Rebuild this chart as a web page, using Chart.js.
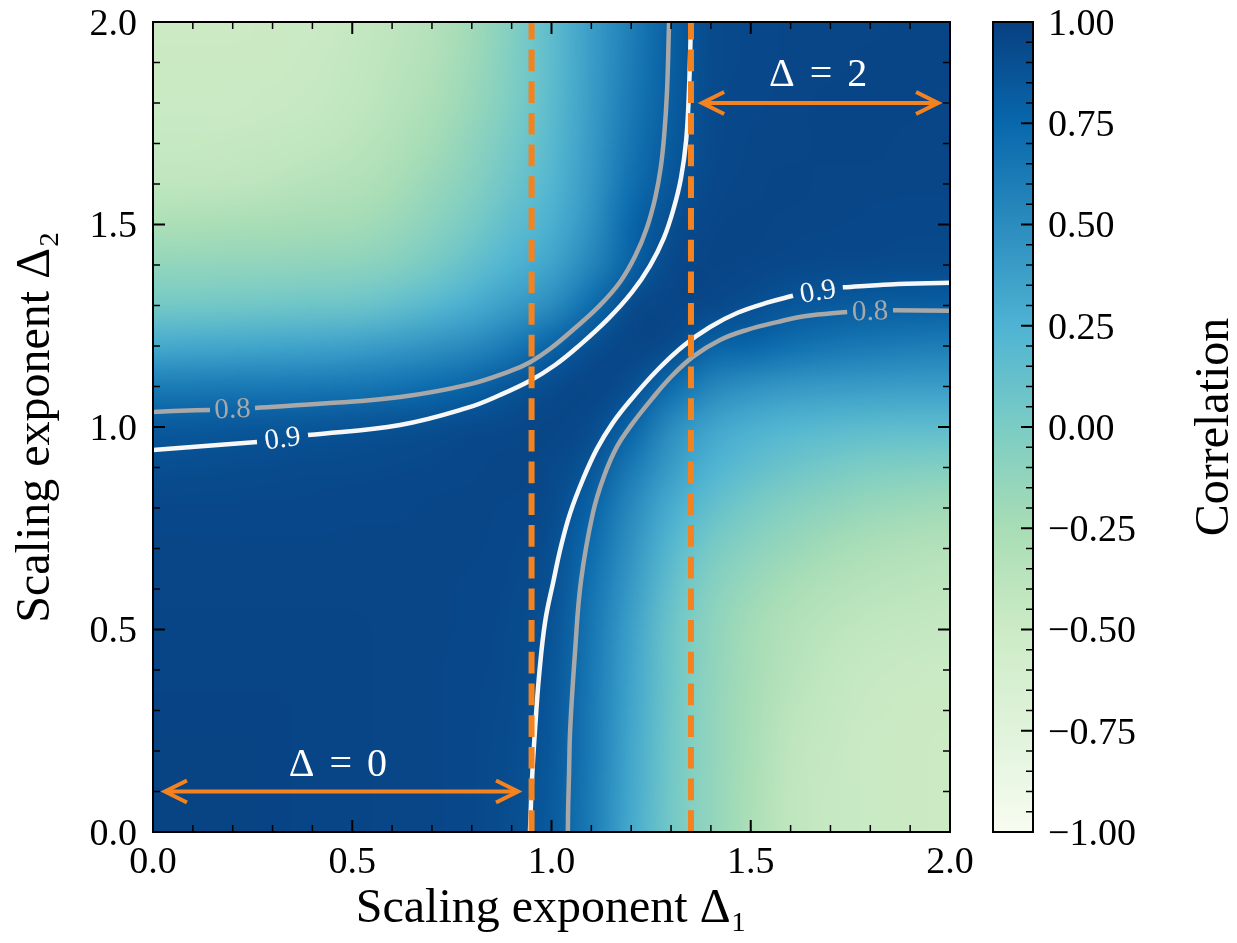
<!DOCTYPE html>
<html>
<head>
<meta charset="utf-8">
<script src="https://cdn.jsdelivr.net/npm/chart.js@4.4.1/dist/chart.umd.min.js"></script>
<style>
  html, body { margin: 0; padding: 0; background: #fff; }
  #wrap { position: relative; width: 1237px; height: 943px; }
  #main { position: absolute; left: 0; top: 0; }
  #cbar { position: absolute; left: 980px; top: 0; }
</style>
</head>
<body>
<div id="wrap">
  <canvas id="main" width="980" height="943"></canvas>
  <canvas id="cbar" width="257" height="943"></canvas>
</div>
<script>
/* ---------- data ---------- */

// grid columns (Delta_1) and rows (Delta_2, top row first)
const delta1 = [0.0, 0.1, 0.2, 0.3, 0.4, 0.5, 0.6, 0.7, 0.8, 0.9, 1.0,
                1.1, 1.2, 1.3, 1.4, 1.5, 1.6, 1.7, 1.8, 1.9, 2.0];
const delta2 = [2.0, 1.9, 1.8, 1.7, 1.6, 1.5, 1.4, 1.3, 1.2, 1.1, 1.0,
                0.9, 0.8, 0.7, 0.6, 0.5, 0.4, 0.3, 0.2, 0.1, 0.0];

// correlation, one row per Delta_2 value
const correlation = [
  [-0.5, -0.5, -0.5, -0.49, -0.48, -0.45, -0.4, -0.33, -0.21, -0.04, 0.16, 0.39, 0.6, 0.81, 0.93, 0.95, 0.96, 0.96, 0.965, 0.97, 0.97],
  [-0.49, -0.49, -0.49, -0.49, -0.47, -0.44, -0.38, -0.31, -0.19, -0.03, 0.16, 0.39, 0.61, 0.815, 0.93, 0.95, 0.96, 0.965, 0.97, 0.97, 0.97],
  [-0.48, -0.48, -0.48, -0.47, -0.46, -0.42, -0.36, -0.28, -0.16, -0.01, 0.17, 0.4, 0.63, 0.82, 0.935, 0.955, 0.96, 0.97, 0.97, 0.97, 0.965],
  [-0.46, -0.46, -0.45, -0.44, -0.42, -0.38, -0.32, -0.23, -0.11, 0.03, 0.19, 0.41, 0.66, 0.84, 0.94, 0.96, 0.965, 0.97, 0.97, 0.965, 0.96],
  [-0.41, -0.41, -0.4, -0.38, -0.34, -0.32, -0.26, -0.16, -0.06, 0.08, 0.22, 0.43, 0.7, 0.86, 0.95, 0.965, 0.97, 0.965, 0.96, 0.96, 0.96],
  [-0.28, -0.27, -0.26, -0.25, -0.24, -0.23, -0.17, -0.09, 0.02, 0.15, 0.27, 0.47, 0.77, 0.91, 0.96, 0.97, 0.965, 0.96, 0.955, 0.95, 0.95],
  [-0.13, -0.125, -0.12, -0.12, -0.11, -0.1, -0.06, 0.02, 0.13, 0.25, 0.35, 0.55, 0.79, 0.95, 0.97, 0.96, 0.95, 0.94, 0.935, 0.93, 0.93],
  [0.04, 0.045, 0.05, 0.06, 0.07, 0.08, 0.13, 0.2, 0.29, 0.4, 0.5, 0.72, 0.94, 0.97, 0.95, 0.91, 0.86, 0.84, 0.82, 0.815, 0.81],
  [0.31, 0.32, 0.33, 0.34, 0.35, 0.37, 0.41, 0.46, 0.52, 0.63, 0.78, 0.91, 0.97, 0.94, 0.79, 0.77, 0.7, 0.66, 0.63, 0.61, 0.6],
  [0.62, 0.62, 0.63, 0.63, 0.64, 0.65, 0.68, 0.72, 0.78, 0.87, 0.93, 0.97, 0.91, 0.72, 0.55, 0.47, 0.43, 0.41, 0.4, 0.39, 0.39],
  [0.838, 0.845, 0.855, 0.86, 0.87, 0.885, 0.9, 0.915, 0.935, 0.945, 0.97, 0.93, 0.78, 0.5, 0.35, 0.27, 0.22, 0.19, 0.17, 0.16, 0.16],
  [0.915, 0.92, 0.925, 0.93, 0.935, 0.94, 0.945, 0.95, 0.955, 0.97, 0.945, 0.87, 0.63, 0.4, 0.25, 0.15, 0.08, 0.03, -0.01, -0.03, -0.04],
  [0.95, 0.95, 0.95, 0.95, 0.95, 0.955, 0.955, 0.96, 0.965, 0.955, 0.935, 0.78, 0.52, 0.29, 0.13, 0.02, -0.06, -0.11, -0.16, -0.19, -0.21],
  [0.96, 0.96, 0.96, 0.96, 0.96, 0.96, 0.96, 0.965, 0.96, 0.95, 0.915, 0.72, 0.46, 0.2, 0.02, -0.09, -0.16, -0.23, -0.28, -0.31, -0.33],
  [0.965, 0.965, 0.965, 0.965, 0.965, 0.965, 0.965, 0.96, 0.955, 0.945, 0.9, 0.68, 0.41, 0.13, -0.06, -0.17, -0.26, -0.32, -0.36, -0.38, -0.4],
  [0.97, 0.97, 0.97, 0.97, 0.97, 0.97, 0.965, 0.96, 0.955, 0.94, 0.885, 0.65, 0.37, 0.08, -0.1, -0.23, -0.32, -0.38, -0.42, -0.44, -0.45],
  [0.97, 0.97, 0.97, 0.97, 0.97, 0.97, 0.965, 0.96, 0.95, 0.935, 0.87, 0.64, 0.35, 0.07, -0.11, -0.24, -0.34, -0.42, -0.46, -0.47, -0.48],
  [0.975, 0.975, 0.975, 0.975, 0.97, 0.97, 0.965, 0.96, 0.95, 0.93, 0.86, 0.63, 0.34, 0.06, -0.12, -0.25, -0.38, -0.44, -0.47, -0.49, -0.49],
  [0.98, 0.98, 0.98, 0.975, 0.97, 0.97, 0.965, 0.96, 0.95, 0.925, 0.855, 0.63, 0.33, 0.05, -0.12, -0.26, -0.4, -0.45, -0.48, -0.49, -0.5],
  [0.98, 0.98, 0.98, 0.975, 0.97, 0.97, 0.965, 0.96, 0.95, 0.92, 0.845, 0.62, 0.32, 0.045, -0.125, -0.27, -0.41, -0.46, -0.48, -0.49, -0.5],
  [0.98, 0.98, 0.98, 0.975, 0.97, 0.97, 0.965, 0.96, 0.95, 0.915, 0.838, 0.62, 0.31, 0.04, -0.13, -0.28, -0.41, -0.46, -0.48, -0.49, -0.5],
];

// contour lines [Delta_1, Delta_2]; null = gap left for the inline label
const contour90Upper = [[0, 0.943], [0.13, 0.953], [0.261, 0.963], null,
  [0.389, 0.98], [0.62, 1.005], [0.788, 1.047], [0.871, 1.079], [0.946, 1.114],
  [1.009, 1.153], [1.066, 1.198], [1.142, 1.267], [1.202, 1.333], [1.247, 1.398],
  [1.282, 1.467], [1.307, 1.541], [1.325, 1.615], [1.338, 1.709], [1.345, 1.832], [1.35, 2.0]];
const contour90Lower = [[0.946, 0], [0.951, 0.128], [0.959, 0.257], [0.969, 0.388],
  [0.984, 0.519], [1.005, 0.62], [1.024, 0.706], [1.047, 0.788], [1.079, 0.871],
  [1.114, 0.946], [1.153, 1.009], [1.198, 1.066], [1.267, 1.142], [1.333, 1.202],
  [1.398, 1.247], [1.467, 1.282], [1.541, 1.307], [1.606, 1.324], null,
  [1.731, 1.345], [1.85, 1.352], [2.0, 1.356]];
const contour80Upper = [[0, 1.037], [0.07, 1.04], [0.143, 1.042], null,
  [0.256, 1.047], [0.444, 1.059], [0.62, 1.074], [0.788, 1.104], [0.896, 1.138],
  [0.946, 1.16], [0.999, 1.195], [1.054, 1.24], [1.12, 1.299], [1.172, 1.358],
  [1.21, 1.422], [1.239, 1.491], [1.26, 1.565], [1.274, 1.64], [1.283, 1.723],
  [1.29, 1.832], [1.295, 2.0]];
const contour80Lower = [[1.041, 0], [1.042, 0.07], [1.044, 0.143], [1.047, 0.256],
  [1.059, 0.444], [1.074, 0.62], [1.104, 0.788], [1.132, 0.879], [1.164, 0.951],
  [1.202, 1.007], [1.25, 1.067], [1.302, 1.126], [1.357, 1.175], [1.423, 1.215],
  [1.491, 1.24], [1.566, 1.259], [1.639, 1.274], [1.742, 1.284], null,
  [1.857, 1.288], [2.0, 1.287]];

// dashed guide lines and the two annotated ranges
const guideX = [0.95, 1.35];
const arrowY = [0.1, 1.8];
const arrowStart = [0.03, 1.378];
const arrowEnd = [0.916, 1.97];
const arrowText = ['Δ = 0', 'Δ = 2'];
const arrowTextX = [0.464, 1.669];
const arrowTextY = [0.165, 1.867];

// tick labels
const axisTicks = [0.0, 0.5, 1.0, 1.5, 2.0];
const cbarTicks = [-1.0, -0.75, -0.5, -0.25, 0.0, 0.25, 0.5, 0.75, 1.0];

/* ---------- style ---------- */

const FONT = "'Liberation Serif', 'Times New Roman', serif";
const ORANGE = '#f4831f';
const WHITE = '#f7f7f7';
const GRAY = '#a8a8a8';
const GNBU = ['#f7fcf0', '#e0f3db', '#ccebc5', '#a8ddb5', '#7bccc4',
              '#4eb3d3', '#2b8cbe', '#0868ac', '#084081'];

const contours = [
  { label: '0.9', color: WHITE, points: contour90Upper },
  { label: '0.9', color: WHITE, points: contour90Lower },
  { label: '0.8', color: GRAY, points: contour80Upper },
  { label: '0.8', color: GRAY, points: contour80Lower },
];

const hexToRgb = h => {
  const n = parseInt(h.slice(1), 16);
  return [(n >> 16) & 255, (n >> 8) & 255, n & 255];
};
const GNBU_RGB = GNBU.map(hexToRgb);

function cmap(v) {
  const lo = cbarTicks[0], hi = cbarTicks[cbarTicks.length - 1];
  const t = Math.min(Math.max((v - lo) / (hi - lo), 0), 1) * (GNBU_RGB.length - 1);
  const k = Math.min(Math.floor(t), GNBU_RGB.length - 2);
  const f = t - k;
  const a = GNBU_RGB[k], b = GNBU_RGB[k + 1];
  return a.map((c, i) => Math.round(c + (b[i] - c) * f));
}

function splitPieces(points) {
  const pieces = [[]];
  points.forEach(p => {
    if (p === null) pieces.push([]);
    else pieces[pieces.length - 1].push({ x: p[0], y: p[1] });
  });
  return pieces;
}

/* ---------- plugins ---------- */

const heatmapPlugin = {
  id: 'heatmap',
  beforeDatasetsDraw(chart) {
    const { ctx, chartArea: a, scales: { x, y } } = chart;
    const nx = delta1.length, ny = delta2.length;
    const off = document.createElement('canvas');
    off.width = nx;
    off.height = ny;
    const octx = off.getContext('2d');
    const img = octx.createImageData(nx, ny);
    correlation.forEach((row, r) => row.forEach((v, c) => {
      const rgb = cmap(v);
      const k = (r * nx + c) * 4;
      img.data[k] = rgb[0];
      img.data[k + 1] = rgb[1];
      img.data[k + 2] = rgb[2];
      img.data[k + 3] = 255;
    }));
    octx.putImageData(img, 0, 0);

    const hx = (delta1[1] - delta1[0]) / 2;
    const hy = (delta2[0] - delta2[1]) / 2;
    const left = x.getPixelForValue(delta1[0] - hx);
    const right = x.getPixelForValue(delta1[nx - 1] + hx);
    const top = y.getPixelForValue(delta2[0] + hy);
    const bottom = y.getPixelForValue(delta2[ny - 1] - hy);

    ctx.save();
    ctx.beginPath();
    ctx.rect(a.left, a.top, a.width, a.height);
    ctx.clip();
    ctx.imageSmoothingEnabled = true;
    ctx.imageSmoothingQuality = 'high';
    ctx.drawImage(off, left, top, right - left, bottom - top);
    ctx.restore();
  }
};

const annotationPlugin = {
  id: 'annotations',
  afterDatasetsDraw(chart) {
    const { ctx, scales: { x, y } } = chart;
    ctx.save();

    // inline contour labels, rotated along the gap
    ctx.font = `29px ${FONT}`;
    ctx.textAlign = 'center';
    ctx.textBaseline = 'middle';
    contours.forEach(c => {
      const gap = c.points.indexOf(null);
      const p0 = c.points[gap - 1], p1 = c.points[gap + 1];
      const x0 = x.getPixelForValue(p0[0]), y0 = y.getPixelForValue(p0[1]);
      const x1 = x.getPixelForValue(p1[0]), y1 = y.getPixelForValue(p1[1]);
      ctx.save();
      ctx.translate((x0 + x1) / 2, (y0 + y1) / 2);
      ctx.rotate(Math.atan2(y1 - y0, x1 - x0));
      ctx.fillStyle = c.color;
      ctx.fillText(c.label, 0, 1);
      ctx.restore();
    });

    // arrow heads
    ctx.strokeStyle = ORANGE;
    ctx.lineWidth = 4;
    ctx.lineJoin = 'miter';
    arrowY.forEach((yv, i) => {
      const py = y.getPixelForValue(yv);
      [[arrowStart[i], 1], [arrowEnd[i], -1]].forEach(([xv, dir]) => {
        const px = x.getPixelForValue(xv);
        ctx.beginPath();
        ctx.moveTo(px + dir * 22, py - 11);
        ctx.lineTo(px, py);
        ctx.lineTo(px + dir * 22, py + 11);
        ctx.stroke();
      });
    });

    // range labels
    ctx.fillStyle = '#ffffff';
    ctx.font = `40px ${FONT}`;
    ctx.wordSpacing = '5px';
    arrowText.forEach((t, i) => {
      ctx.fillText(t, x.getPixelForValue(arrowTextX[i]), y.getPixelForValue(arrowTextY[i]));
    });
    ctx.restore();
  }
};

const frameTicksPlugin = {
  id: 'frameTicks',
  afterDraw(chart) {
    const { ctx, chartArea: a, scales: { x, y } } = chart;
    ctx.save();
    ctx.strokeStyle = '#000';
    for (let k = 0; k <= 20; k++) {
      const major = k % 5 === 0;
      const len = major ? 12 : 7;
      ctx.lineWidth = major ? 2 : 1.5;
      const px = x.getPixelForValue(k / 10);
      const py = y.getPixelForValue(k / 10);
      ctx.beginPath();
      ctx.moveTo(px, a.bottom); ctx.lineTo(px, a.bottom - len);
      ctx.moveTo(px, a.top); ctx.lineTo(px, a.top + len);
      ctx.moveTo(a.left, py); ctx.lineTo(a.left + len, py);
      ctx.moveTo(a.right, py); ctx.lineTo(a.right - len, py);
      ctx.stroke();
    }
    ctx.lineWidth = 2;
    ctx.strokeRect(a.left, a.top, a.width, a.height);

    // x tick labels
    ctx.fillStyle = '#000';
    ctx.font = `38px ${FONT}`;
    ctx.textAlign = 'center';
    ctx.textBaseline = 'middle';
    axisTicks.forEach(v => ctx.fillText(v.toFixed(1), x.getPixelForValue(v), a.bottom + 31));
    ctx.restore();
  }
};

const cbarFramePlugin = {
  id: 'cbarFrame',
  afterDraw(chart) {
    const { ctx, chartArea: a, scales: { y } } = chart;
    ctx.save();
    ctx.strokeStyle = '#000';
    for (let k = -20; k <= 20; k++) {
      const major = k % 5 === 0;
      const len = major ? 12 : 7;
      ctx.lineWidth = major ? 2 : 1.5;
      const py = y.getPixelForValue(k / 20);
      ctx.beginPath();
      ctx.moveTo(a.right, py); ctx.lineTo(a.right - len, py);
      ctx.stroke();
    }
    ctx.lineWidth = 2;
    ctx.strokeRect(a.left, a.top, a.width, a.height);

    ctx.translate(248, (a.top + a.bottom) / 2);
    ctx.rotate(-Math.PI / 2);
    ctx.fillStyle = '#000';
    ctx.font = `48px ${FONT}`;
    ctx.textAlign = 'center';
    ctx.textBaseline = 'alphabetic';
    ctx.fillText('Correlation', 0, 0);
    ctx.restore();
  }
};

/* ---------- charts ---------- */

Chart.defaults.font.family = FONT;
Chart.defaults.color = '#000';

const datasets = [];
arrowY.forEach((yv, i) => datasets.push({
  data: [{ x: arrowStart[i], y: yv }, { x: arrowEnd[i], y: yv }],
  borderColor: ORANGE, borderWidth: 4,
}));
guideX.forEach(xv => datasets.push({
  data: [{ x: xv, y: 0 }, { x: xv, y: 2 }],
  borderColor: ORANGE, borderWidth: 6, borderDash: [21.7, 10],
}));
contours.forEach(c => splitPieces(c.points).forEach(piece => datasets.push({
  data: piece, borderColor: c.color, borderWidth: 4.5, tension: 0.4,
})));
datasets.forEach(d => Object.assign(d, { showLine: true, pointRadius: 0, clip: 0 }));

const axisTitleFont = { family: FONT, size: 48 };
const tickFont = { family: FONT, size: 38 };

new Chart(document.getElementById('main'), {
  type: 'scatter',
  data: { datasets },
  options: {
    responsive: false,
    animation: false,
    events: [],
    layout: { padding: { left: 0, top: 22, right: 30, bottom: 0 } },
    plugins: { legend: { display: false }, tooltip: { enabled: false } },
    scales: {
      x: {
        type: 'linear', min: 0, max: 2,
        grid: { display: false, drawTicks: false },
        border: { display: false },
        afterBuildTicks: s => { s.ticks = axisTicks.map(value => ({ value })); },
        afterFit: s => { s.height = 111; s.paddingLeft = 0; s.paddingRight = 0; },
        ticks: { display: false },
        title: { display: true, text: 'Scaling exponent Δ₁', font: axisTitleFont,
                 color: '#000', padding: { top: 0, bottom: 5 } },
      },
      y: {
        type: 'linear', min: 0, max: 2,
        grid: { display: false, drawTicks: false },
        border: { display: false },
        afterBuildTicks: s => { s.ticks = axisTicks.map(value => ({ value })); },
        afterFit: s => { s.width = 153; s.paddingTop = 0; s.paddingBottom = 0; },
        ticks: { font: tickFont, color: '#000', padding: 16, labelOffset: 3,
                 callback: v => v.toFixed(1) },
        title: { display: true, text: 'Scaling exponent Δ₂', font: axisTitleFont,
                 color: '#000', padding: { top: 8, bottom: 0 } },
      },
    },
  },
  plugins: [heatmapPlugin, annotationPlugin, frameTicksPlugin],
});

function cbarGradient(context) {
  const chart = context.chart;
  if (!chart.chartArea) return GNBU[4];
  const ys = chart.scales.y;
  const g = chart.ctx.createLinearGradient(0, ys.getPixelForValue(cbarTicks[0]), 0,
                                           ys.getPixelForValue(cbarTicks[cbarTicks.length - 1]));
  GNBU.forEach((c, k) => g.addColorStop(k / (GNBU.length - 1), c));
  return g;
}

new Chart(document.getElementById('cbar'), {
  type: 'bar',
  data: {
    labels: [''],
    datasets: [{
      data: [[cbarTicks[0], cbarTicks[cbarTicks.length - 1]]],
      backgroundColor: cbarGradient,
      borderWidth: 0,
      barPercentage: 1,
      categoryPercentage: 1,
    }],
  },
  options: {
    responsive: false,
    animation: false,
    events: [],
    layout: { padding: { left: 13, top: 22, right: 0, bottom: 111 } },
    plugins: { legend: { display: false }, tooltip: { enabled: false } },
    scales: {
      x: { display: false },
      y: {
        position: 'right', min: -1, max: 1,
        grid: { display: false, drawTicks: false },
        border: { display: false },
        afterBuildTicks: s => { s.ticks = cbarTicks.map(value => ({ value })); },
        afterFit: s => { s.width = 204; s.paddingTop = 0; s.paddingBottom = 0; },
        ticks: { font: tickFont, color: '#000', padding: 15, labelOffset: 3,
                 callback: v => (v < 0 ? '\u2212' : '') + Math.abs(v).toFixed(2) },
      },
    },
  },
  plugins: [cbarFramePlugin],
});
</script>
</body>
</html>
